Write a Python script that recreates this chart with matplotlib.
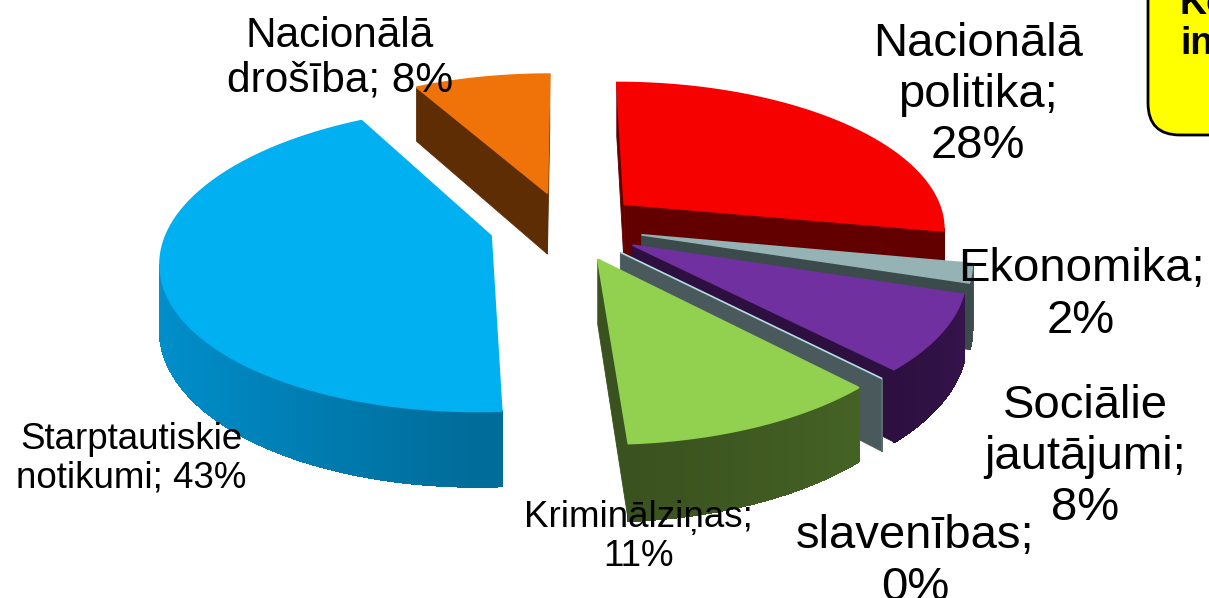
import numpy as np
import matplotlib
matplotlib.use("Agg")
import matplotlib.pyplot as plt
from matplotlib.patches import Polygon, FancyBboxPatch
from matplotlib.colors import to_rgb

# dati
labels = ["Nacionālā\npolitika;\n28%", "Ekonomika;\n2%", "Sociālie\njautājumi;\n8%",
          "slavenības;\n0%", "Kriminālziņas;\n11%", "Starptautiskie\nnotikumi; 43%",
          "Nacionālā\ndrošība; 8%"]
shares = [28, 2, 8, 0, 11, 43, 8]
top_colors = ["#f70000", "#95b3b5", "#7030a0", "#b4dde6", "#92d050", "#00b0f0", "#f0730a"]
wall_colors = ["#620000", "#3b4a4b", "#2d1040", "#4a5a5c", "#3a521f", "#005a80", "#5e2d04"]

# izkārtojums (pikseļos)
label_pos = [(978, 95), (1081, 295), (1085, 457), (915, 562), (638, 537), (131, 459), (340, 58)]
label_size = [34, 34, 34, 34, 26.5, 26.5, 30.5]
label_spacing = [1.22, 1.22, 1.22, 1.22, 1.12, 1.12, 1.15]

CX, CY = 566, 226          # pīrāga centrs
A, B, K, H = 322, 146, 0.15, 63
EXPLODE = 0.24
FONT = ["Liberation Sans", "DejaVu Sans"]


def project(u, v, z):
    s = 1.0 / (1.0 + K * v)
    return CX + A * u * s, CY - B * v * s + H * z * s


def shade(color, f):
    r, g, b = to_rgb(color)
    return (min(r * f, 1), min(g * f, 1), min(b * f, 1))


fig = plt.figure(figsize=(12.09, 5.98), dpi=100)
ax = fig.add_axes([0, 0, 1, 1])
ax.set_xlim(0, 1209)
ax.set_ylim(598, 0)
ax.axis("off")

cam = np.array([0.0, -1.0 / K])
bounds = 90 - 3.6 * np.concatenate([[0], np.cumsum(shares)])

slices = []
for i in range(len(shares)):
    ts, te = bounds[i], bounds[i + 1]
    mid = np.radians((ts + te) / 2)
    c = EXPLODE * np.array([np.cos(mid), np.sin(mid)])
    slices.append((c[1], i, ts, te, c))

# no aizmugures uz priekšu
slices.sort(key=lambda s: -s[0])

for order, (_, i, ts, te, c) in enumerate(slices):
    z0 = order * 10
    n = max(2, int(abs(ts - te) * 2) + 2)
    phis = np.radians(np.linspace(ts, te, n))
    arc = np.column_stack([c[0] + np.cos(phis), c[1] + np.sin(phis)])

    # radiālās sienas
    for ang, sign in ((ts, 1), (te, -1)):
        a = np.radians(ang)
        normal = sign * np.array([-np.sin(a), np.cos(a)])
        rim = c + np.array([np.cos(a), np.sin(a)])
        p = c + 0.5 * np.array([np.cos(a), np.sin(a)])
        if np.dot(normal, cam - p) > 0:
            pts = [project(c[0], c[1], 0), project(rim[0], rim[1], 0),
                   project(rim[0], rim[1], 1), project(c[0], c[1], 1)]
            ax.add_patch(Polygon(pts, closed=True, facecolor=wall_colors[i],
                                 edgecolor=wall_colors[i], lw=0.6, zorder=z0 + 1))

    # ārējā siena ar gradientu
    for j in range(n - 1):
        phm = (phis[j] + phis[j + 1]) / 2
        normal = np.array([np.cos(phm), np.sin(phm)])
        p = c + normal
        if np.dot(normal, cam - p) <= 0:
            continue
        t = j / max(n - 2, 1)
        f = 1 + 0.5 * max(0.0, -np.cos(phm)) + 0.2 * (1 - t)
        col = shade(wall_colors[i], f)
        pa, pb = arc[j], arc[j + 1]
        pts = [project(pa[0], pa[1], 0), project(pb[0], pb[1], 0),
               project(pb[0], pb[1], 1), project(pa[0], pa[1], 1)]
        ax.add_patch(Polygon(pts, closed=True, facecolor=col, edgecolor=col,
                             lw=1.2, antialiased=False, zorder=z0 + 2))

    # virsma
    top = [project(c[0], c[1], 0)] + [project(u, v, 0) for u, v in arc]
    ax.add_patch(Polygon(top, closed=True, facecolor=top_colors[i],
                         edgecolor=top_colors[i], lw=1.2, zorder=z0 + 3))

for i, lab in enumerate(labels):
    x, y = label_pos[i]
    ax.text(x, y, lab, ha="center", va="center", fontsize=label_size[i],
            family=FONT, color="black", linespacing=label_spacing[i], zorder=200)

# dzeltenais virsraksta lodziņš (nogriezts)
box = FancyBboxPatch((1148, -60), 140, 195, boxstyle="round,pad=0,rounding_size=32",
                     facecolor="#ffff00", edgecolor="black", lw=2, zorder=150)
ax.add_patch(box)
ax.text(1180, 24, "Ko\nin", ha="left", va="center", fontsize=27, fontweight="bold",
        family=FONT, color="black", linespacing=1.15, zorder=160)

fig.savefig("out.png", dpi=100, facecolor="white")
